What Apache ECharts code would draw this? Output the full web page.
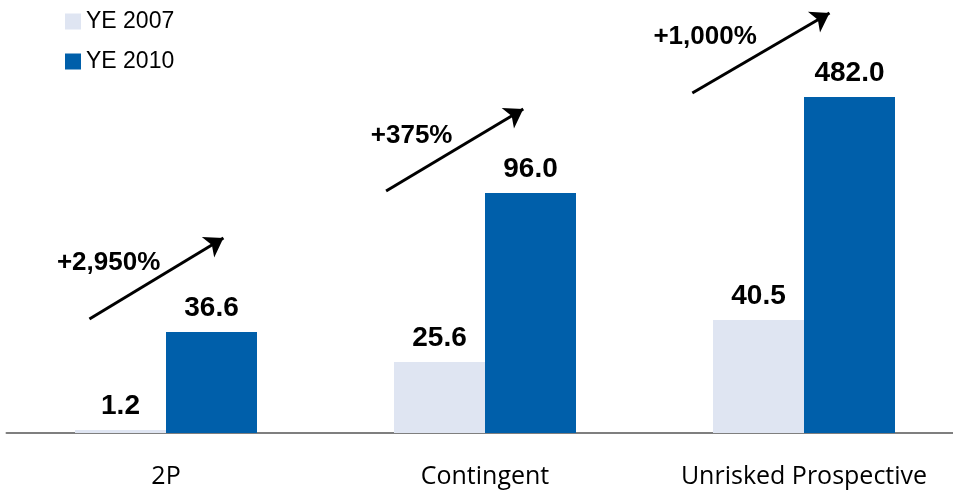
<!DOCTYPE html>
<html>
<head>
<meta charset="utf-8">
<script src="https://cdn.jsdelivr.net/npm/echarts@6/dist/echarts.min.js"></script>
<style>
  html, body { margin: 0; padding: 0; background: #fff; }
  #chart { width: 953px; height: 490px; }
</style>
</head>
<body>
<div id="chart"></div>
<script>
const categories = ['2P', 'Contingent', 'Unrisked Prospective']
const value2007 = [1.2, 25.6, 40.5]
const value2010 = [36.6, 96.0, 482.0]
// bar heights as drawn in the source (it is not to scale)
const height2007 = [3, 71, 113]
const height2010 = [101, 240, 336]
const growthLabels = ['+2,950%', '+375%', '+1,000%']
// arrows, in category units on x and drawn units on y
const arrowStart = [[-0.24, 114], [0.69, 242], [1.65, 340]]
const arrowEnd = [[0.18, 195], [1.12, 324], [2.08, 420]]
const growthPos = [[-0.18, 170], [0.77, 297], [1.69, 396]]

const chart = echarts.init(document.getElementById('chart'))

const barLabel = (vals) => ({
  show: true,
  position: 'top',
  distance: 10,
  fontFamily: 'Liberation Sans',
  fontWeight: 'bold',
  fontSize: 28,
  color: '#000',
  formatter: (p) => vals[p.dataIndex].toFixed(1)
})

chart.setOption({
  animation: false,
  backgroundColor: '#fff',
  legend: {
    orient: 'vertical',
    left: 65,
    top: 10,
    padding: 0,
    itemGap: 17,
    itemWidth: 16,
    itemHeight: 16,
    icon: 'rect',
    textStyle: { fontFamily: 'Liberation Sans', fontSize: 23, color: '#000' },
    data: ['YE 2007', 'YE 2010']
  },
  // the plot runs a little past the right edge of the picture
  grid: { left: 6.5, right: -10.5, top: 0, bottom: 57, containLabel: false, outerBoundsMode: 'none' },
  xAxis: [
    {
      type: 'category',
      data: categories,
      axisTick: { show: false },
      axisLine: { lineStyle: { color: '#7f7f7f', width: 2 } },
      axisLabel: {
        interval: 0,
        margin: 31,
        fontFamily: 'Open Sans',
        fontSize: 25,
        color: '#000'
      }
    },
    { type: 'value', min: -0.5, max: 2.5, show: false }
  ],
  yAxis: { type: 'value', min: 0, max: 433, show: false },
  series: [
    {
      name: 'YE 2007',
      type: 'bar',
      barWidth: 91,
      barGap: 0,
      itemStyle: { color: '#dfe5f2' },
      label: barLabel(value2007),
      data: height2007
    },
    {
      name: 'YE 2010',
      type: 'bar',
      barWidth: 91,
      barGap: 0,
      itemStyle: { color: '#005faa' },
      label: barLabel(value2010),
      data: height2010
    },
    {
      type: 'scatter',
      xAxisIndex: 1,
      symbolSize: 1,
      itemStyle: { color: 'transparent', opacity: 1 },
      silent: true,
      label: {
        show: true,
        position: 'inside',
        fontFamily: 'Liberation Sans',
        fontWeight: 'bold',
        fontSize: 26,
        color: '#000',
        textBorderWidth: 0,
        formatter: (p) => growthLabels[p.dataIndex]
      },
      data: growthPos,
      markLine: {
        silent: true,
        label: { show: false },
        lineStyle: { color: '#000', width: 3, type: 'solid' },
        data: arrowStart.map((s, i) => [
          { coord: s, symbol: 'none' },
          { coord: arrowEnd[i], symbol: 'arrow', symbolSize: 18 }
        ])
      }
    }
  ]
})
</script>
</body>
</html>
